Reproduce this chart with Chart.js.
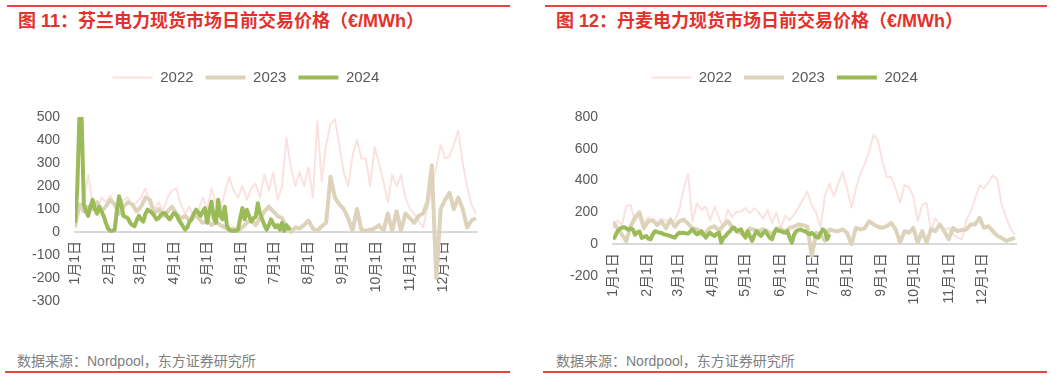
<!DOCTYPE html>
<html>
<head>
<meta charset="utf-8">
<script src="https://cdn.jsdelivr.net/npm/chart.js@4.4.1/dist/chart.umd.min.js"></script>
<style>
    body {
        margin: 0;
        width: 1061px;
        height: 379px;
        position: relative;
        overflow: hidden;
        background: #fff;
        font-family: "Liberation Sans", Arial, "Noto Sans CJK SC", sans-serif;
    }
    .rule { position: absolute; height: 2px; background: #E8453C; }
    .title { position: absolute; top: 10px; font-size: 18px; line-height: 22px; font-weight: bold; color: #E4312B; white-space: nowrap; }
    .source { position: absolute; top: 352px; font-size: 14px; line-height: 18px; color: #808080; white-space: nowrap; }
    canvas { position: absolute; }
</style>
</head>
<body>
<div class="rule" style="left:7px; top:5px; width:503px;"></div>
<div class="rule" style="left:545px; top:5px; width:502px;"></div>
<div class="title" style="left:18px;">图 11：芬兰电力现货市场日前交易价格（€/MWh）</div>
<div class="title" style="left:556px;">图 12：丹麦电力现货市场日前交易价格（€/MWh）</div>

<canvas id="finland" width="512" height="255" style="left:5px; top:58px;"></canvas>
<canvas id="denmark" width="516" height="258" style="left:540px; top:58px;"></canvas>

<div class="source" style="left:17px;">数据来源：Nordpool，东方证券研究所</div>
<div class="source" style="left:556px;">数据来源：Nordpool，东方证券研究所</div>
<div class="rule" style="left:5px; top:371px; width:505px;"></div>
<div class="rule" style="left:543px; top:371px; width:504px;"></div>

<script>
// month starts (day of year) and their labels
const monthDays = [0, 31, 59, 90, 120, 151, 181, 212, 243, 273, 304, 334];
const monthLabels = ['1月1日', '2月1日', '3月1日', '4月1日', '5月1日', '6月1日',
    '7月1日', '8月1日', '9月1日', '10月1日', '11月1日', '12月1日'];

// Finland, 2022 and 2023 read every 4 days, 2024 every 2 days
const fi2022 = [60, 100, 140, 250, 120, 90, 150, 130, 160, 120,
    100, 140, 150, 110, 130, 150, 190, 120, 100, 130,
    90, 150, 180, 190, 120, 80, 110, 60, 90, 150,
    100, 190, 120, 100, 170, 240, 180, 150, 200, 140,
    190, 210, 150, 250, 180, 260, 140,
    200, 410, 280, 200, 260, 200, 280, 150, 480, 220,
    380, 470, 490, 380, 260, 200, 330, 400, 320, 320,
    200, 370, 300, 220, 130, 250, 200, 250, 150, 100,
    80, 50, 20, 100, 200, 280, 380, 320, 330, 380,
    440, 300, 200, 120, 80];
const fi2023 = [20, 120, 90, 110, 100, 130, 90, 110, 140, 120,
    80, 110, 130, 120, 90, 110, 150, 140, 80, 100,
    70, 90, 110, 80, 60, 70, 50, 80, 60, 40,
    50, 30, 45, 30, 20, 10, 15, 5, 20, 40,
    55, 30, 60, 90,
    110, 90, 70, 60, 20, 0, 20, 15, 30, 50,
    15, 5, 25, 40, 240, 150, 120, 100, 60, 5,
    100, 10, 5, 10, 15, 30, 5, 80, 5, 90,
    5, 80, 60, 40, 70, 80, 130, 290, -200, 100,
    140, 170, 100, 150, 100, 20, 50, 60];
const fi2024 = [40, 180, 500, 500, 120, 90, 70, 110, 140, 100,
    80, 110, 90, 70, 40, 15, 5, 5, 10, 90,
    155, 120, 70, 65, 60, 40, 30, 25, 50, 70,
    55, 45, 80, 97, 90, 83, 70, 55, 60, 75,
    83, 80, 65, 55, 70, 83, 75, 55, 40, 25,
    10, 20, 45, 55, 80, 97, 85, 70, 90, 104,
    40, 90, 132, 60, 40, 140, 70, 55, 110, 25,
    10, 5, 5, 5, 10, 60, 104, 55, 97, 70,
    45, 60, 65, 125, 80, 55, 30, 10, 30, 55,
    35, 20, 30, 10, 40, 5, 30, 15, 20];

// Denmark
const dk2022 = [100, 150, 120, 237, 247, 144, 175, 130, 170, 150,
    140, 160, 150, 130, 150, 216, 350, 443, 144, 258,
    216, 237, 150, 237, 165, 103, 216, 170, 206, 206,
    227, 196, 227, 200, 160, 216, 130, 200, 100, 180,
    150, 186, 230, 280, 330, 247, 200, 103, 309, 381,
    300, 381, 454, 350, 230, 350, 443, 505, 580, 690,
    650, 520, 423, 423, 350, 260, 371, 360, 300, 144,
    247, 258, 82, 165, 124, 90, 103, 62, 40, 31,
    150, 206, 289, 371, 350, 390, 433, 412, 247, 170,
    100, 60];
const dk2023 = [140, 100, 60, 20, 113, 170, 200, 100, 144, 150,
    120, 144, 100, 155, 110, 144, 155, 130, 100, 95,
    60, 70, 103, 113, 85, 120, 144, 110, 80, 70,
    65, 100, 90, 82, 95, 80, 62, 100, 95, 80,
    103, 110, 124, 120, 110, -75, 72, 60, 21, 93,
    85, 82, 93, 72, 0, 103, 93, 100, 144, 124,
    110, 103, 113, 134, 93, 10, 82, 72, 103, 10,
    82, 10, 93, 82, 124, 82, 31, 103, 82, 90,
    93, 124, 124, 165, 103, 113, 82, 52, 40, 21,
    31, 40];
const dk2024 = [30, 50, 80, 95, 105, 107, 100, 90, 100, 93,
    60, 75, 80, 40, 45, 52, 35, 31, 60, 82,
    78, 72, 70, 62, 60, 55, 52, 45, 41, 60,
    72, 70, 72, 68, 66, 80, 93, 75, 62, 72,
    82, 60, 41, 60, 72, 60, 52, 65, 72, 10,
    40, 52, 70, 82, 100, 103, 82, 88, 93, 60,
    41, 82, 50, 21, 55, 82, 65, 52, 70, 82,
    60, 40, 31, 70, 93, 85, 82, 75, 72, 82,
    40, 10, 60, 82, 90, 93, 85, 82, 70, 62,
    72, 60, 45, 41, 70, 93, 82, 31, 62];

const textColor = '#595959';
const baseFont = '"Liberation Sans", Arial, "Noto Sans CJK SC", sans-serif';

function toPoints(values, step) {
    return values.map((v, i) => ({ x: i * step, y: v }));
}

// push the plot area down below the legend
const legendGap = {
    id: 'legendGap',
    beforeInit(chart) {
        const fit = chart.legend.fit;
        chart.legend.fit = function() {
            fit.bind(chart.legend)();
            this.height += 22;
        };
    }
};

function createChart(id, s2022, s2023, s2024, yMin, yMax, yStep, pad) {
    const ctx = document.getElementById(id).getContext('2d');
    new Chart(ctx, {
        type: 'line',
        data: {
            datasets: [
                { label: '2022', data: toPoints(s2022, 4), borderColor: '#FBE2E0', borderWidth: 2, order: 3 },
                { label: '2023', data: toPoints(s2023, 4), borderColor: '#DDD3BA', borderWidth: 4, order: 2 },
                { label: '2024', data: toPoints(s2024, 2), borderColor: '#9BBB59', borderWidth: 4, order: 1 }
            ]
        },
        options: {
            responsive: false,
            animation: false,
            layout: { padding: pad },
            elements: {
                point: { radius: 0 },
                line: { tension: 0, borderJoinStyle: 'round', fill: false }
            },
            plugins: {
                legend: {
                    position: 'top',
                    labels: {
                        usePointStyle: true,
                        pointStyle: 'line',
                        pointStyleWidth: 40,
                        padding: 12,
                        color: textColor,
                        font: { family: baseFont, size: 15 },
                        sort: (a, b) => a.datasetIndex - b.datasetIndex
                    }
                },
                tooltip: { enabled: false }
            },
            scales: {
                x: {
                    type: 'linear',
                    min: 0,
                    max: 365,
                    position: { y: 0 },
                    afterBuildTicks: axis => {
                        axis.ticks = monthDays.map(d => ({ value: d }));
                    },
                    ticks: {
                        autoSkip: false,
                        minRotation: 90,
                        maxRotation: 90,
                        padding: 9,
                        color: textColor,
                        font: { family: baseFont, size: 14 },
                        callback: (value, index) => monthLabels[index]
                    },
                    grid: { display: false, drawTicks: false },
                    border: { display: true, color: '#D9D9D9', width: 2 }
                },
                y: {
                    min: yMin,
                    max: yMax,
                    afterFit: scale => {
                        scale.width = 60;
                        scale.paddingTop = 8;
                        scale.paddingBottom = 8;
                    },
                    ticks: {
                        stepSize: yStep,
                        padding: 15,
                        color: textColor,
                        font: { family: baseFont, size: 14 }
                    },
                    grid: { display: false, drawTicks: false },
                    border: { display: false }
                }
            }
        },
        plugins: [legendGap]
    });
}

createChart('finland', fi2022, fi2023, fi2024, -300, 500, 100, { left: 10, right: 40, top: 0, bottom: 12 });
createChart('denmark', dk2022, dk2023, dk2024, -200, 800, 200, { left: 13, right: 40, top: 0, bottom: 40 });
</script>
</body>
</html>
